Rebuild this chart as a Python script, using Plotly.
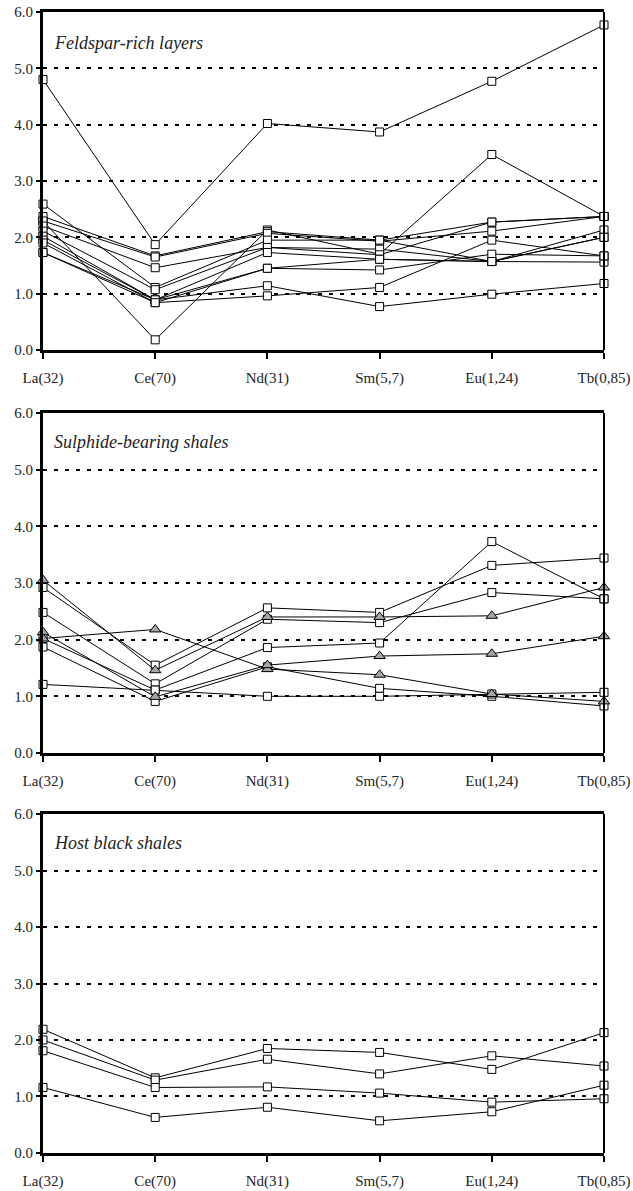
import plotly.graph_objects as go
from plotly.subplots import make_subplots

elements = ["La(32)", "Ce(70)", "Nd(31)", "Sm(5,7)", "Eu(1,24)", "Tb(0,85)"]
y_ticks = [0, 1, 2, 3, 4, 5, 6]
y_tick_labels = ["0.0", "1.0", "2.0", "3.0", "4.0", "5.0", "6.0"]

panel_titles = ["Feldspar-rich layers", "Sulphide-bearing shales", "Host black shales"]

# Panel 1: Feldspar-rich layers (all squares)
feldspar_series = [
    [4.80, 1.87, 4.02, 3.87, 4.77, 5.77],
    [2.29, 0.18, 2.13, 1.70, 3.47, 2.37],
    [2.37, 1.67, 2.10, 1.95, 2.27, 2.37],
    [2.29, 1.65, 2.07, 1.93, 2.11, 2.37],
    [2.20, 1.46, 1.82, 1.79, 1.57, 1.56],
    [2.59, 1.11, 1.95, 1.95, 1.57, 2.13],
    [2.11, 1.07, 1.82, 1.69, 2.27, 2.37],
    [2.02, 0.89, 1.73, 1.61, 1.57, 2.00],
    [1.95, 0.89, 1.45, 1.42, 1.70, 1.67],
    [1.73, 0.84, 1.45, 1.61, 1.57, 2.00],
    [1.73, 0.89, 1.14, 0.77, 0.99, 1.18],
    [1.90, 0.84, 0.96, 1.11, 1.95, 1.67],
]

# Panel 2: Sulphide-bearing shales
sulphide_triangles = [
    [3.05, 1.46, 2.40, 2.40, 2.42, 2.92],
    [2.02, 2.18, 1.48, 1.38, 1.04, 0.91],
    [2.13, 0.99, 1.55, 1.71, 1.75, 2.06],
]
sulphide_squares = [
    [2.92, 1.55, 2.56, 2.48, 3.31, 3.44],
    [2.48, 1.22, 2.36, 2.30, 2.83, 2.72],
    [2.02, 1.11, 1.86, 1.94, 3.73, 2.72],
    [1.87, 0.91, 1.52, 1.14, 1.00, 0.83],
    [1.21, 1.11, 1.00, 1.00, 1.04, 1.07],
]

# Panel 3: Host black shales
host_series = [
    [2.19, 1.33, 1.85, 1.78, 1.48, 2.13],
    [2.00, 1.29, 1.66, 1.40, 1.72, 1.54],
    [1.81, 1.16, 1.17, 1.06, 0.90, 0.96],
    [1.16, 0.63, 0.81, 0.57, 0.73, 1.20],
]

FONT = "Liberation Serif, Times New Roman, serif"

fig = make_subplots(rows=3, cols=1)

square_marker = dict(symbol="square", size=8, color="white", line=dict(color="black", width=1))
tri_marker = dict(symbol="triangle-up", size=10, color="#a6a6a6", line=dict(color="black", width=1))
line_style = dict(color="black", width=1)


def add_series(series_list, marker, row):
    for s in series_list:
        fig.add_trace(go.Scatter(x=elements, y=s, mode="lines+markers", line=line_style,
                                 marker=marker, showlegend=False, cliponaxis=False),
                      row=row, col=1)


add_series(feldspar_series, square_marker, 1)
add_series(sulphide_squares, square_marker, 2)
add_series(sulphide_triangles, tri_marker, 2)
add_series(host_series, square_marker, 3)

domains = [[0.7038, 1.0], [0.3506, 0.6486], [0.0, 0.2971]]
title_y = [0.908, 0.915, 0.915]

for i in range(3):
    r = i + 1
    fig.update_yaxes(row=r, col=1, domain=domains[i], range=[0, 6], tickvals=y_ticks,
                     ticktext=y_tick_labels, showgrid=True, gridcolor="black", gridwidth=2,
                     griddash="4px,7px", showline=True, linecolor="black", linewidth=3,
                     ticks="outside", ticklen=4, tickwidth=2, tickcolor="black",
                     zeroline=False, automargin=False,
                     tickfont=dict(family=FONT, size=15, color="#222"),
                     fixedrange=True)
    fig.update_xaxes(row=r, col=1, type="category", range=[0, 5], showgrid=False,
                     showline=True, linecolor="black", linewidth=3, mirror=True,
                     ticks="outside", ticklen=6, tickwidth=2, tickcolor="black",
                     ticklabelstandoff=6, zeroline=False, automargin=False,
                     tickfont=dict(family=FONT, size=15, color="#222"), fixedrange=True)
    xref = "x" if r == 1 else f"x{r}"
    yref = "y" if r == 1 else f"y{r}"
    fig.add_shape(type="line", xref=f"{xref} domain", yref=f"{yref} domain",
                  x0=1, x1=1, y0=0, y1=1, line=dict(color="black", width=2))
    fig.add_annotation(xref=f"{xref} domain", yref=f"{yref} domain", x=0.016, y=title_y[i],
                       xanchor="left", yanchor="middle", showarrow=False,
                       text=f"<i>{panel_titles[i]}</i>",
                       font=dict(family=FONT, size=18, color="#222"))

fig.update_layout(width=633, height=1191, margin=dict(l=43, r=29, t=12, b=38, autoexpand=False),
                  plot_bgcolor="white", paper_bgcolor="white",
                  font=dict(family=FONT, size=15, color="#222"))

fig.write_html("out.html", config={"displayModeBar": False},
               post_script="document.body.style.margin='0px';")
